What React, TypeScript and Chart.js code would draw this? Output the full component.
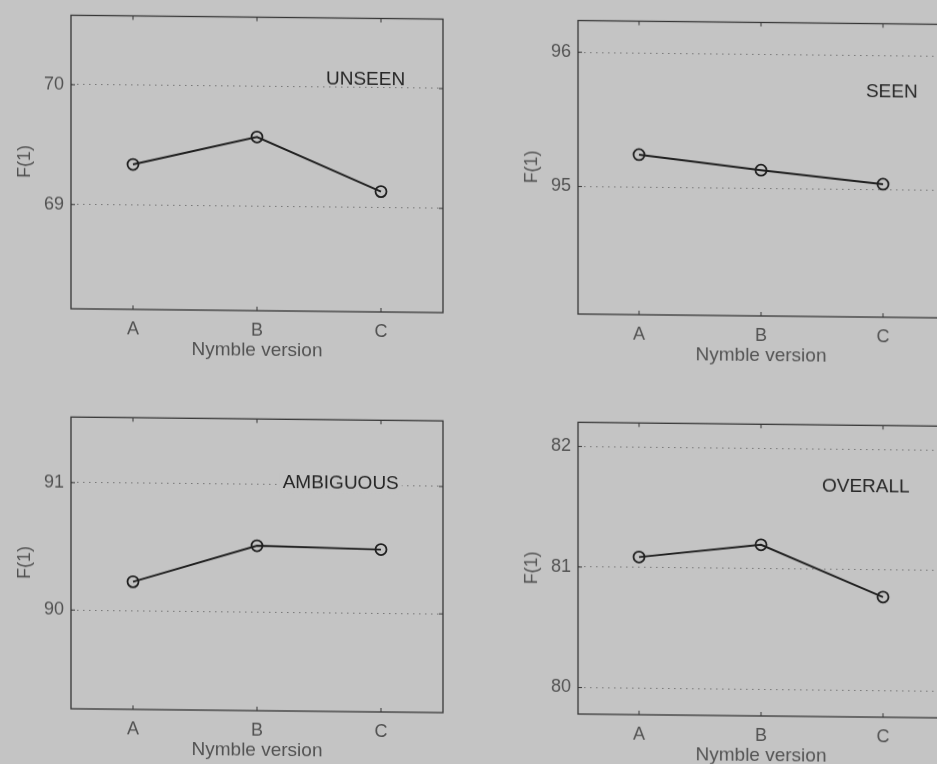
import React, { useEffect, useRef } from "react";
import { Chart, registerables } from "chart.js";

Chart.register(...registerables);

// Nymble versions along the x axis
const versions = ["A", "B", "C"];

// F(1) scores per test subset
const unseenF1 = [69.34, 69.58, 69.135];
const seenF1 = [95.242, 95.136, 95.041];
const ambiguousF1 = [90.227, 90.52, 90.5];
const overallF1 = [81.088, 81.2, 80.777];

// y tick values per subset
const unseenTicks = [69, 70];
const seenTicks = [95, 96];
const ambiguousTicks = [90, 91];
const overallTicks = [80, 81, 82];

const PAGE_BG = "#c4c4c4";
const INK = "#1f1f1f";
const GREY_TEXT = "#525252";
const FONT = "'Liberation Sans', Arial, Helvetica, sans-serif";

type Panel = {
  name: string;
  values: number[];
  ticks: number[];
  yMin: number;
  yMax: number;
  labelX: number;
  labelY: number;
  maskLabel: boolean;
  left: number;
  top: number;
  width: number;
  height: number;
  padTop: number;
};

const panels: Panel[] = [
  { name: "UNSEEN", values: unseenF1, ticks: unseenTicks, yMin: 68.13, yMax: 70.58, labelX: 2.556, labelY: 70.07, maskLabel: false, left: 0, top: -10, width: 453, height: 378, padTop: 24.5 },
  { name: "SEEN", values: seenF1, ticks: seenTicks, yMin: 94.05, yMax: 96.236, labelX: 2.86, labelY: 95.73, maskLabel: false, left: 507, top: -10, width: 447, height: 378, padTop: 24.5 },
  { name: "AMBIGUOUS", values: ambiguousF1, ticks: ambiguousTicks, yMin: 89.225, yMax: 91.515, labelX: 2.207, labelY: 91.02, maskLabel: true, left: 0, top: 392, width: 453, height: 376, padTop: 24.3 },
  { name: "OVERALL", values: overallF1, ticks: overallTicks, yMin: 79.78, yMax: 82.2, labelX: 2.5, labelY: 81.69, maskLabel: false, left: 507, top: 392, width: 447, height: 376, padTop: 24.3 },
];

// Frame, inward tick marks and the subset name inside the axes
const framePlugin = {
  id: "frameAndName",
  afterDraw(chart: any, _args: any, opts: any) {
    const { ctx, chartArea, scales } = chart;
    const { left, right, top, bottom } = chartArea;
    const x = scales.x;
    const y = scales.y;
    ctx.save();
    ctx.strokeStyle = "#363636";
    ctx.lineWidth = 1.3;
    ctx.strokeRect(left, top, right - left, bottom - top);
    const tl = 4;
    ctx.lineWidth = 1;
    ctx.beginPath();
    x.ticks.forEach((t: any) => {
      const px = x.getPixelForValue(t.value);
      ctx.moveTo(px, bottom);
      ctx.lineTo(px, bottom - tl);
      ctx.moveTo(px, top);
      ctx.lineTo(px, top + tl);
    });
    y.ticks.forEach((t: any) => {
      const py = y.getPixelForValue(t.value);
      ctx.moveTo(left, py);
      ctx.lineTo(left + tl, py);
      ctx.moveTo(right, py);
      ctx.lineTo(right - tl, py);
    });
    ctx.stroke();

    const lx = x.getPixelForValue(opts.labelX);
    const ly = y.getPixelForValue(opts.labelY);
    ctx.font = `19px ${FONT}`;
    ctx.textAlign = "left";
    ctx.textBaseline = "middle";
    if (opts.mask) {
      const w = ctx.measureText(opts.text).width;
      ctx.fillStyle = PAGE_BG;
      ctx.fillRect(lx - 3, ly - 10, w + 6, 20);
    }
    ctx.fillStyle = "#262626";
    ctx.fillText(opts.text, lx, ly);
    ctx.restore();
  },
};

function PanelChart({ p }: { p: Panel }) {
  const ref = useRef<HTMLCanvasElement | null>(null);
  useEffect(() => {
    if (!ref.current) return;
    const chart = new Chart(ref.current, {
      type: "line",
      data: {
        datasets: [
          {
            data: p.values.map((v, i) => ({ x: i + 1, y: v })),
            borderColor: INK,
            borderWidth: 1.9,
            pointRadius: 5.5,
            pointBorderWidth: 1.8,
            pointBorderColor: INK,
            pointBackgroundColor: "rgba(0,0,0,0)",
            pointStyle: "circle",
            tension: 0,
            clip: false as any,
          },
        ],
      },
      plugins: [framePlugin],
      options: {
        responsive: false,
        animation: false,
        devicePixelRatio: 1,
        layout: { padding: { top: p.padTop, right: 10, bottom: 0, left: 0 } },
        plugins: {
          legend: { display: false },
          tooltip: { enabled: false },
          frameAndName: { text: p.name, labelX: p.labelX, labelY: p.labelY, mask: p.maskLabel },
        } as any,
        scales: {
          x: {
            type: "linear",
            min: 0.5,
            max: 3.5,
            afterBuildTicks: (s: any) => {
              s.ticks = versions.map((_, i) => ({ value: i + 1 }));
            },
            afterFit: (s: any) => {
              s.height = 60;
            },
            grid: { display: false, drawTicks: false },
            border: { display: false },
            ticks: {
              padding: 9,
              color: GREY_TEXT,
              font: { family: FONT, size: 18 },
              callback: (v: any) => versions[Math.round(Number(v)) - 1] ?? "",
            },
            title: {
              display: true,
              text: "Nymble version",
              color: GREY_TEXT,
              font: { family: FONT, size: 19 },
              padding: { top: 0, bottom: 9 },
            },
          },
          y: {
            type: "linear",
            min: p.yMin,
            max: p.yMax,
            afterBuildTicks: (s: any) => {
              s.ticks = p.ticks.map((v) => ({ value: v }));
            },
            afterFit: (s: any) => {
              s.width = 71;
            },
            grid: {
              display: true,
              drawTicks: false,
              color: "#777777",
              lineWidth: 1,
            },
            border: { display: false, dash: [1.5, 4.5] },
            ticks: {
              padding: 7,
              color: GREY_TEXT,
              font: { family: FONT, size: 18 },
              callback: (v: any) => String(v),
            },
            title: {
              display: true,
              text: "F(1)",
              color: GREY_TEXT,
              font: { family: FONT, size: 18 },
              padding: { top: 14, bottom: 0 },
            },
          },
        },
      } as any,
    });
    return () => chart.destroy();
  }, [p]);
  return (
    <canvas
      ref={ref}
      width={p.width}
      height={p.height}
      style={{ position: "absolute", left: p.left, top: p.top, width: p.width, height: p.height }}
    />
  );
}

export default function App() {
  return (
    <div
      style={{
        position: "fixed",
        left: 0,
        top: 0,
        width: 937,
        height: 764,
        overflow: "hidden",
        background: PAGE_BG,
      }}
    >
      <div
        style={{
          position: "absolute",
          left: 0,
          top: 0,
          width: 937,
          height: 764,
          transform: "skewY(0.6deg)",
          transformOrigin: "0 0",
        }}
      >
        {panels.map((p) => (
          <PanelChart key={p.name} p={p} />
        ))}
      </div>
    </div>
  );
}
